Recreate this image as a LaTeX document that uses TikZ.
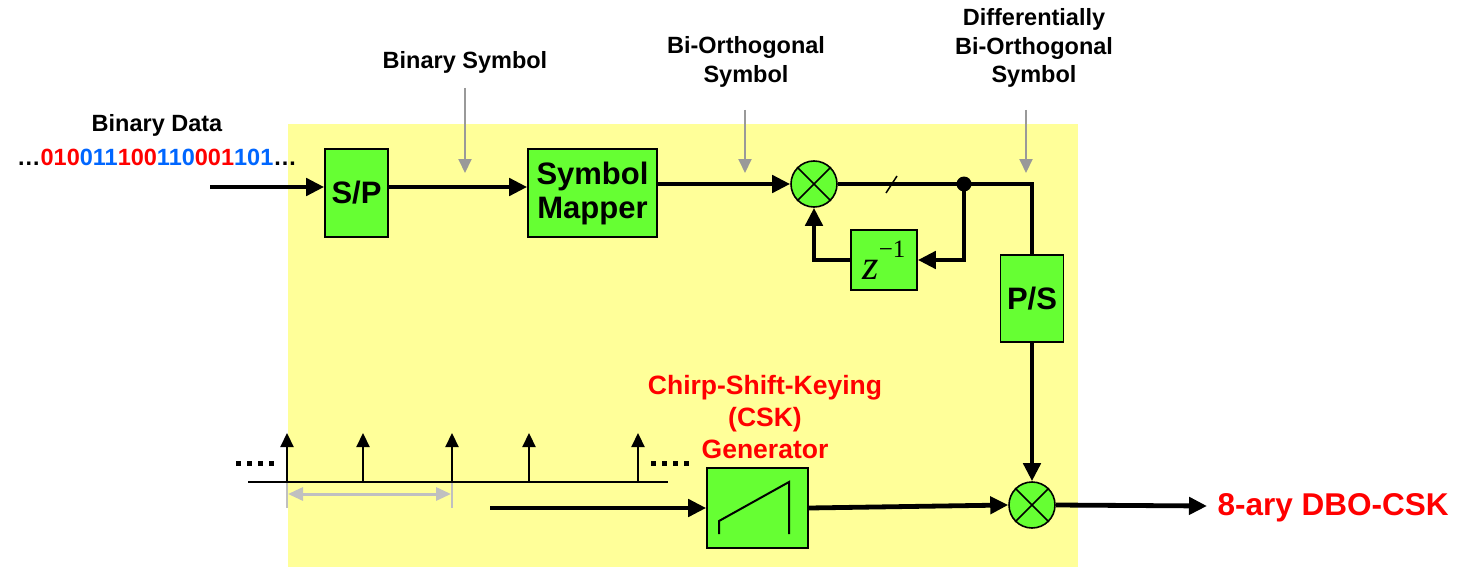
\documentclass[tikz,border=0pt]{standalone}
\usepackage{fontspec}
\setmainfont{Liberation Sans}
\newfontfamily\tnrfont{Liberation Serif}
\usetikzlibrary{arrows.meta}
\definecolor{bgyellow}{HTML}{FFFF99}
\definecolor{boxgreen}{HTML}{66FF33}
\definecolor{lblgray}{HTML}{999999}
\definecolor{tickgray}{HTML}{C0C0C0}
\definecolor{bitred}{HTML}{FF0000}
\definecolor{bitblue}{HTML}{0066FF}
\begin{document}
\begin{tikzpicture}[x=1pt,y=-1pt,
  blk/.style={draw, fill=boxgreen, line width=1.6pt, inner sep=0pt, align=center,
    font=\fontsize{31}{34}\selectfont\bfseries},
  mult/.style={draw, circle, fill=boxgreen, line width=1.6pt, minimum size=46pt, inner sep=0pt},
  mainarrow/.style={line width=4.8pt, -{Triangle[length=18pt,width=17pt]}},
  mainline/.style={line width=4.8pt},
  imp/.style={line width=2.2pt, -{Triangle[length=14pt,width=13pt]}},
  grayarrow/.style={draw=lblgray, line width=2pt, -{Triangle[length=14pt,width=13pt]}, color=lblgray},
  lbl/.style={align=center, font=\fontsize{23.5}{28.5}\selectfont\bfseries},
  redlbl/.style={align=center, text=bitred, font=\fontsize{26.5}{32}\selectfont\bfseries}]
\useasboundingbox (0,0) rectangle (1464,567);
\fill[bgyellow] (288,124) rectangle (1078,567);

% labels
\node[lbl] (bdata) at (157,125) {Binary Data};
\node[lbl] (bits) at (157,157) {…\textcolor{bitred}{010}\textcolor{bitblue}{011}\textcolor{bitred}{100}\textcolor{bitblue}{110}\textcolor{bitred}{001}\textcolor{bitblue}{101}…};
\node[lbl] (lbsym) at (465,62) {Binary Symbol};
\node[lbl] (lbo) at (746,62) {Bi-Orthogonal\\Symbol};
\node[lbl] (ldbo) at (1034,48) {Differentially\\Bi-Orthogonal\\Symbol};
\node[redlbl] (lcsk) at (765,417) {Chirp-Shift-Keying\\(CSK)\\Generator};
\node[anchor=west, text=bitred, font=\fontsize{31.5}{34}\selectfont\bfseries] (lout) at (1214,508) {8-ary DBO-CSK};

% blocks
\node[blk, minimum width=63pt, minimum height=88pt] (sp) at (356.5,193) {S/P};
\node[blk, minimum width=129pt, minimum height=88pt] (map) at (592.5,193) {Symbol\\Mapper};
\node[mult] (m1) at (814,184) {};
\draw[line width=1.6pt] (m1.north west) -- (m1.south east) (m1.north east) -- (m1.south west);
\node[circle, fill=black, inner sep=0pt, minimum size=15pt] (dot) at (964,184) {};
\coordinate (corner) at (1032,184);
\node[blk, minimum width=66pt, minimum height=60pt, font=\normalfont] (zb) at (884,260)
  {{\tnrfont\itshape\fontsize{42}{44}\selectfont z}\raisebox{22pt}{\tnrfont\fontsize{25}{27}\selectfont −1}};
\node[blk, minimum width=63pt, minimum height=87pt] (ps) at (1032,298.5) {P/S};
\node[mult] (m2) at (1032,505) {};
\draw[line width=1.6pt] (m2.north west) -- (m2.south east) (m2.north east) -- (m2.south west);
\node[blk, minimum width=101pt, minimum height=80pt] (csk) at (757.5,508) {};
\draw[line width=2pt] (719,534) -- (719,521) -- (789,482) -- (789,534);

% connectors
\coordinate (in) at (210,187);
\draw[mainarrow] (in) -- (in -| sp.west);
\draw[mainarrow] (sp.east |- in) -- (map.west |- in);
\draw[mainarrow] (map.east |- m1) -- (m1.west);
\draw[mainline] (m1.east) -- (corner) -- (ps.north);
\draw[line width=1.5pt] (886,193) -- (897,176);
\draw[mainarrow] (dot.center) -- (dot.center |- zb.east) -- (zb.east);
\draw[mainarrow] (zb.west) -| (m1.south);
\draw[mainarrow] (ps.south) -- (m2.north);
\coordinate (outtip) at (1207,506);
\draw[mainarrow] (m2.east) -- (outtip);
\draw[mainarrow] (csk.east) -- (m2.west);
\coordinate (cskin) at (490,508);
\draw[mainarrow] (cskin) -- (csk.west);

% label arrows
\coordinate (a1s) at (465,88);  \coordinate (a1e) at (465,173);
\coordinate (a2s) at (745,110); \coordinate (a2e) at (745,173);
\coordinate (a3s) at (1026,110); \coordinate (a3e) at (1026,173);
\draw[grayarrow] (a1s) -- (a1e);
\draw[grayarrow] (a2s) -- (a2e);
\draw[grayarrow] (a3s) -- (a3e);

% impulse train
\draw[tickgray, line width=1.5pt] (287,482) -- (287,508) (452,482) -- (452,508);
\draw[tickgray, line width=3pt, {Triangle[length=15pt,width=13pt]}-{Triangle[length=15pt,width=13pt]}] (288,494) -- (451,494);
\draw[line width=2pt] (248,482) -- (668,482);
\foreach \x in {287,363,452,529,638} \draw[imp] (\x,482) -- (\x,433);
\draw[line width=5pt, dash pattern=on 5pt off 6pt] (236,463) -- (274,463);
\draw[line width=5pt, dash pattern=on 5pt off 6pt] (651,463) -- (689,463);
\end{tikzpicture}
\end{document}
